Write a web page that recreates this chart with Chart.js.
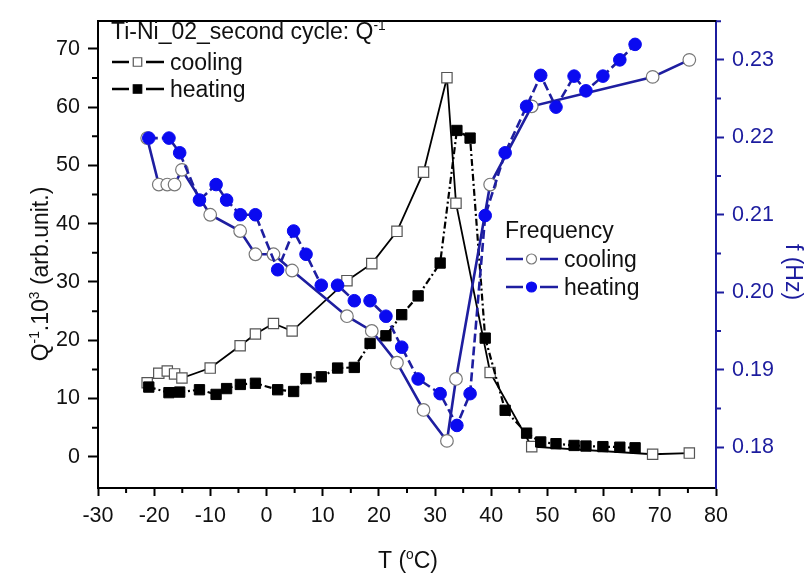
<!DOCTYPE html>
<html>
<head>
<meta charset="utf-8">
<script src="https://cdn.jsdelivr.net/npm/chart.js@4.4.1/dist/chart.umd.min.js"></script>
<style>
html,body{margin:0;padding:0;background:#fff;}
#wrap{width:812px;height:574px;position:relative;}
</style>
</head>
<body>
<div id="wrap"><canvas id="c" width="812" height="574"></canvas></div>
<script>
// ---- data ----
const coolingT = [-21.25,-19.18,-17.67,-16.37,-15.06,-10.03,-4.70,-1.98,1.23,4.55,14.31,18.73,23.21,27.94,32.11,33.72,39.80,47.20,68.72,75.25];
const coolingQ = [12.72,14.33,14.73,14.23,13.52,15.23,19.06,21.07,22.88,21.58,30.23,33.15,38.69,48.85,65.06,43.52,14.48,1.75,0.44,0.64];
const coolingF = [0.2199,0.2139,0.2139,0.2139,0.2158,0.2100,0.2079,0.2049,0.2049,0.2028,0.1969,0.1950,0.1909,0.1848,0.1808,0.1888,0.2139,0.2240,0.2278,0.2300];

const heatingT = [-20.96,-17.37,-15.46,-11.94,-8.98,-7.11,-4.66,-1.98,1.98,4.82,7.03,9.74,12.65,15.62,18.43,21.25,24.06,26.98,30.90,33.88,36.23,38.92,42.47,46.29,48.80,51.52,54.74,56.85,59.87,62.88,65.60];
const heatingQ = [11.97,11.01,11.11,11.51,10.71,11.71,12.42,12.62,11.51,11.21,13.42,13.73,15.23,15.34,19.46,20.77,24.39,27.61,33.25,56.0,54.69,20.37,7.99,4.06,2.55,2.25,1.95,1.85,1.75,1.65,1.55];
const heatingF = [0.2199,0.2199,0.2180,0.2119,0.2139,0.2119,0.2100,0.2100,0.2029,0.2079,0.2049,0.2009,0.2009,0.1989,0.1989,0.1969,0.1929,0.1888,0.1869,0.1828,0.1869,0.2099,0.2180,0.2240,0.2280,0.2239,0.2279,0.2260,0.2279,0.2300,0.2320];

const xTicks = [-30,-20,-10,0,10,20,30,40,50,60,70,80];
const qTicks = [0,10,20,30,40,50,60,70];
const fTicks = [0.18,0.19,0.20,0.21,0.22,0.23];

const legendQTitle = 'Ti-Ni_02_second cycle: Q';
const legendFTitle = 'Frequency';
const seriesNames = ['cooling','heating'];

// ---- styles ----
const FONT = '"Liberation Sans", Arial, Helvetica, sans-serif';
const BLUE_LINE = '#1e1ea0';
const BLUE_PT = '#0a0af0';
const BLUE_AXIS = '#1c1c9e';
const TXT = 23;

const pts = (xs, ys) => xs.map((x, i) => ({x: x, y: ys[i]}));

Chart.defaults.font.family = FONT;
Chart.defaults.font.size = 21;
Chart.defaults.color = '#111';

function rich(ctx, parts, x, y, size, color, align) {
  const F = s => s + 'px ' + FONT;
  let w = 0;
  parts.forEach(p => { ctx.font = F(p[1] ? size * 0.6 : size); w += ctx.measureText(p[0]).width; });
  let cx = align === 'center' ? x - w / 2 : x;
  ctx.fillStyle = color; ctx.textBaseline = 'alphabetic'; ctx.textAlign = 'left';
  const base = y + size * 0.36;
  parts.forEach(p => {
    const s = p[1] ? size * 0.6 : size;
    ctx.font = F(s);
    ctx.fillText(p[0], cx, p[1] ? base - size * 0.42 : base);
    cx += ctx.measureText(p[0]).width;
  });
}

function marker(ctx, type, x, y, r, fill, stroke, lw) {
  ctx.beginPath();
  if (type === 'rect') { const s = r * Math.SQRT1_2; ctx.rect(x - s, y - s, 2 * s, 2 * s); }
  else ctx.arc(x, y, r, 0, Math.PI * 2);
  ctx.fillStyle = fill; ctx.fill();
  ctx.lineWidth = lw; ctx.strokeStyle = stroke; ctx.stroke();
}

function legendRow(ctx, x, y, lineColor, type, r, fill, stroke, text, textColor) {
  ctx.save();
  ctx.strokeStyle = lineColor; ctx.lineWidth = 2.4; ctx.setLineDash([]);
  ctx.beginPath(); ctx.moveTo(x, y); ctx.lineTo(x + 17, y); ctx.moveTo(x + 34, y); ctx.lineTo(x + 52, y); ctx.stroke();
  marker(ctx, type, x + 25.5, y, r, fill, stroke, 1.2);
  ctx.restore();
  rich(ctx, [[text, false]], x + 58, y, TXT, textColor, 'left');
}

const decor = {
  id: 'decor',
  afterDraw(chart) {
    const ctx = chart.ctx, a = chart.chartArea;
    const xs = chart.scales.x, yq = chart.scales.yQ, yf = chart.scales.yF;
    ctx.save();
    // top frame
    ctx.strokeStyle = '#000'; ctx.lineWidth = 2;
    ctx.beginPath(); ctx.moveTo(a.left - 1, a.top); ctx.lineTo(a.right, a.top); ctx.stroke();
    // minor ticks
    ctx.lineWidth = 2;
    ctx.beginPath();
    for (let i = 0; i < xTicks.length - 1; i++) {
      const px = xs.getPixelForValue((xTicks[i] + xTicks[i + 1]) / 2);
      ctx.moveTo(px, a.bottom); ctx.lineTo(px, a.bottom + 5);
    }
    for (let i = 0; i < qTicks.length; i++) {
      const v = qTicks[i] + 5;
      if (v > yq.max) continue;
      const py = yq.getPixelForValue(v);
      ctx.moveTo(a.left, py); ctx.lineTo(a.left - 6, py);
    }
    ctx.stroke();
    ctx.strokeStyle = BLUE_AXIS;
    ctx.beginPath();
    for (let i = 0; i < fTicks.length; i++) {
      const v = fTicks[i] + 0.005;
      if (v > yf.max) continue;
      const py = yf.getPixelForValue(v);
      ctx.moveTo(a.right, py); ctx.lineTo(a.right + 5, py);
    }
    ctx.stroke();

    // axis titles
    rich(ctx, [['T (', false], ['o', true], ['C)', false]], 408, 560, TXT, '#111', 'center');
    ctx.save(); ctx.translate(40, 274); ctx.rotate(-Math.PI / 2);
    rich(ctx, [['Q', false], ['-1', true], ['.10', false], ['3', true], [' (arb.unit.)', false]], 0, 0, TXT, '#111', 'center');
    ctx.restore();
    ctx.save(); ctx.translate(794, 272); ctx.rotate(Math.PI / 2);
    rich(ctx, [['f (Hz)', false]], 0, 0, TXT, BLUE_AXIS, 'center');
    ctx.restore();

    // legend 1
    rich(ctx, [[legendQTitle, false], ['-1', true]], 111, 31, TXT, '#111', 'left');
    legendRow(ctx, 112, 62, '#000', 'rect', 6, '#fff', '#555', seriesNames[0], '#111');
    legendRow(ctx, 112, 89, '#000', 'rect', 6, '#000', '#000', seriesNames[1], '#111');
    // legend 2
    rich(ctx, [[legendFTitle, false]], 505, 230, TXT, '#111', 'left');
    legendRow(ctx, 506, 259, BLUE_LINE, 'circle', 5, '#fff', '#777', seriesNames[0], '#111');
    legendRow(ctx, 506, 287, BLUE_LINE, 'circle', 5, BLUE_PT, BLUE_PT, seriesNames[1], '#111');
    ctx.restore();
  }
};

new Chart(document.getElementById('c'), {
  type: 'scatter',
  data: {
    datasets: [
      {
        label: 'Frequency heating', yAxisID: 'yF', data: pts(heatingT, heatingF), showLine: true,
        borderColor: BLUE_LINE, borderWidth: 2.6, borderDash: [9, 4],
        pointStyle: 'circle', pointRadius: 6.3, pointBackgroundColor: BLUE_PT, pointBorderColor: BLUE_PT, pointBorderWidth: 1
      },
      {
        label: 'Frequency cooling', yAxisID: 'yF', data: pts(coolingT, coolingF), showLine: true,
        borderColor: BLUE_LINE, borderWidth: 2.6,
        pointStyle: 'circle', pointRadius: 6.3, pointBackgroundColor: '#fff', pointBorderColor: '#777', pointBorderWidth: 1.2
      },
      {
        label: 'Q heating', yAxisID: 'yQ', data: pts(heatingT, heatingQ), showLine: true,
        borderColor: '#000', borderWidth: 2.2, borderDash: [7, 3, 2, 3],
        pointStyle: 'rect', pointRadius: 7.3, pointBackgroundColor: '#000', pointBorderColor: '#000', pointBorderWidth: 1
      },
      {
        label: 'Q cooling', yAxisID: 'yQ', data: pts(coolingT, coolingQ), showLine: true,
        borderColor: '#000', borderWidth: 1.8,
        pointStyle: 'rect', pointRadius: 7.3, pointBackgroundColor: '#fff', pointBorderColor: '#555', pointBorderWidth: 1.2
      }
    ]
  },
  options: {
    responsive: false, animation: false, devicePixelRatio: 1,
    layout: { padding: { top: 8, left: 0, right: 0, bottom: 0 } },
    plugins: { legend: { display: false }, tooltip: { enabled: false } },
    scales: {
      x: {
        type: 'linear', position: 'bottom', min: -30, max: 80,
        afterBuildTicks: s => { s.ticks = xTicks.map(v => ({ value: v })); },
        afterFit: s => { s.height = 86; },
        ticks: { color: '#111', padding: 7, maxRotation: 0, autoSkip: false, font: { size: 21.5 } },
        grid: { display: true, drawOnChartArea: false, drawTicks: true, tickLength: 8, tickWidth: 2, tickColor: '#000', color: '#000' },
        border: { display: true, color: '#000', width: 2 }
      },
      yQ: {
        type: 'linear', position: 'left', min: -5.35, max: 74.8,
        afterBuildTicks: s => { s.ticks = qTicks.map(v => ({ value: v })); },
        afterFit: s => { s.width = 98; },
        ticks: { color: '#111', padding: 8, autoSkip: false, font: { size: 21.5 } },
        grid: { display: true, drawOnChartArea: false, drawTicks: true, tickLength: 10, tickWidth: 2, tickColor: '#000', color: '#000' },
        border: { display: true, color: '#000', width: 2 }
      },
      yF: {
        type: 'linear', position: 'right', min: 0.17472, max: 0.23503,
        afterBuildTicks: s => { s.ticks = fTicks.map(v => ({ value: v })); },
        afterFit: s => { s.width = 96; },
        ticks: { color: BLUE_AXIS, padding: 8, autoSkip: false, font: { size: 21.5 }, callback: v => Number(v).toFixed(2) },
        grid: { display: true, drawOnChartArea: false, drawTicks: true, tickLength: 8, tickWidth: 2, tickColor: BLUE_AXIS, color: BLUE_AXIS },
        border: { display: true, color: BLUE_AXIS, width: 2 }
      }
    }
  },
  plugins: [decor]
});
</script>
</body>
</html>
